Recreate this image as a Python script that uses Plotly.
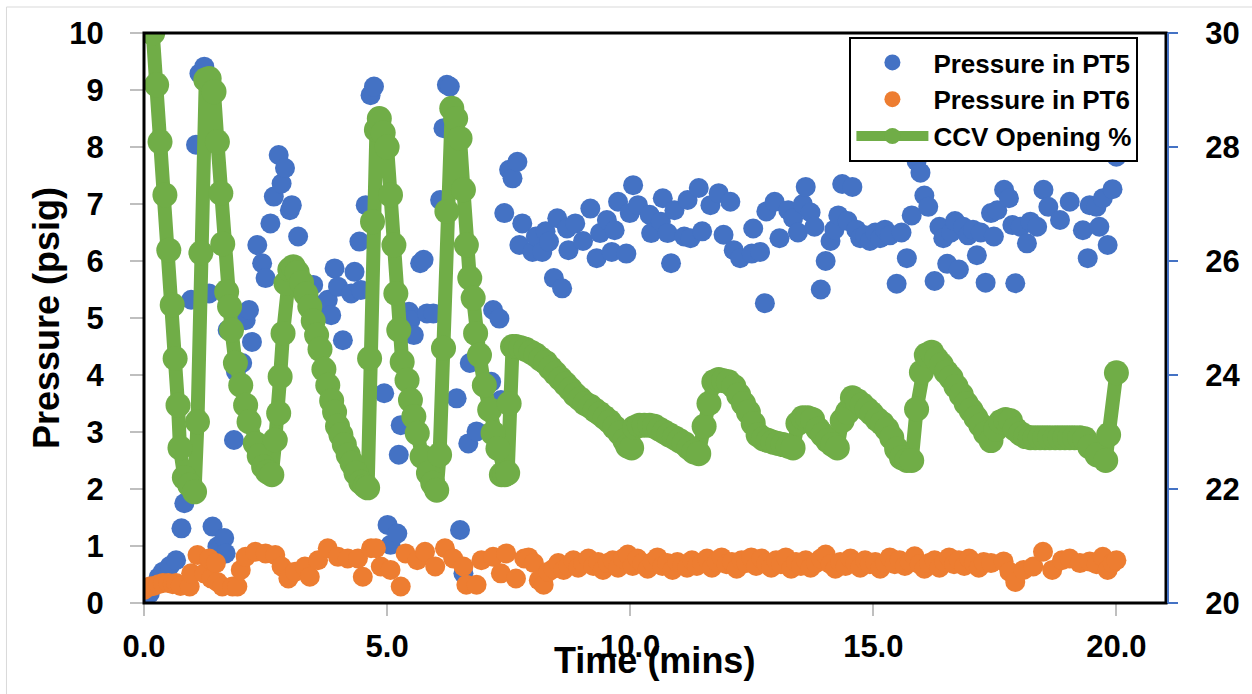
import plotly.graph_objects as go

# ---- data -------------------------------------------------------------
# CCV opening (%), right axis
ccv_t = [0.18, 0.26, 0.33, 0.43, 0.51, 0.58, 0.64, 0.70, 0.74, 0.83, 0.94, 1.04,
         1.10, 1.17, 1.27, 1.34, 1.44, 1.51, 1.58, 1.62, 1.70, 1.76, 1.80, 1.88,
         1.99, 2.09, 2.16, 2.29, 2.37, 2.46, 2.54, 2.63, 2.70, 2.77, 2.80, 2.86,
         2.92, 3.00, 3.07, 3.15, 3.24, 3.33, 3.41, 3.48, 3.55, 3.62, 3.70, 3.78,
         3.86, 3.92, 3.98, 4.05, 4.12, 4.20, 4.28, 4.36, 4.46, 4.55, 4.60, 4.64,
         4.70, 4.78, 4.84, 4.92, 5.00, 5.07, 5.14, 5.18, 5.24, 5.31, 5.41, 5.48,
         5.55, 5.62, 5.72, 5.85, 5.94, 6.02, 6.08, 6.16, 6.23, 6.33, 6.41, 6.50,
         6.57, 6.63, 6.70, 6.77, 6.82, 6.90, 7.00, 7.11, 7.18, 7.28, 7.35, 7.42,
         7.48, 7.51, 7.58, 7.65, 7.75, 7.85, 7.96, 8.06, 8.16, 8.26, 8.36, 8.46,
         8.57, 8.67, 8.77, 8.87, 8.97, 9.07, 9.18, 9.28, 9.38, 9.48, 9.58, 9.68,
         9.79, 9.89, 9.95, 10.03, 10.09, 10.19, 10.29, 10.40, 10.50, 10.60, 10.70,
         10.80, 10.91, 11.01, 11.11, 11.21, 11.31, 11.41, 11.52, 11.62, 11.72,
         11.82, 11.92, 12.02, 12.13, 12.23, 12.33, 12.43, 12.53, 12.63, 12.74,
         12.84, 12.94, 13.04, 13.14, 13.25, 13.35, 13.45, 13.55, 13.65, 13.75,
         13.86, 13.96, 14.06, 14.16, 14.26, 14.36, 14.47, 14.57, 14.67, 14.77,
         14.87, 14.97, 15.08, 15.18, 15.28, 15.38, 15.48, 15.58, 15.69, 15.79,
         15.89, 15.99, 16.09, 16.20, 16.30, 16.40, 16.50, 16.60, 16.70, 16.81,
         16.91, 17.01, 17.11, 17.21, 17.31, 17.42, 17.52, 17.62, 17.72, 17.82,
         17.92, 18.03, 18.13, 18.23, 18.33, 18.43, 18.53, 18.63, 18.74, 18.84,
         18.94, 19.04, 19.14, 19.25, 19.35, 19.45, 19.60, 19.78, 19.84, 20.00]
ccv_pct = [30.00, 29.09, 28.09, 27.16, 26.19, 25.23, 24.29, 23.47, 22.72, 22.20, 22.07, 21.95,
           23.18, 26.14, 29.18, 29.20, 28.97, 28.09, 27.19, 26.30, 25.46, 25.20, 24.79, 24.21,
           23.82, 23.47, 23.18, 22.80, 22.58, 22.39, 22.30, 22.25, 22.86, 23.33, 23.97, 24.73,
           25.61, 25.85, 25.90, 25.80, 25.62, 25.42, 25.20, 24.95, 24.70, 24.45, 24.10, 23.82,
           23.55, 23.35, 23.10, 22.95, 22.78, 22.60, 22.45, 22.28, 22.12, 22.05, 22.02, 24.29,
           26.69, 28.30, 28.50, 28.25, 28.00, 27.16, 26.28, 25.43, 24.79, 24.23, 23.91, 23.56,
           23.27, 22.98, 22.57, 22.28, 22.10, 21.98, 22.60, 24.47, 26.87, 28.68, 28.50, 28.15,
           27.25, 26.28, 25.70, 25.35, 24.73, 24.35, 23.82, 23.39, 22.98, 22.71, 22.25, 22.25,
           22.28, 23.50, 24.50, 24.50, 24.48, 24.45, 24.40, 24.35, 24.28, 24.22, 24.12, 24.03,
           23.93, 23.84, 23.75, 23.65, 23.58, 23.50, 23.45, 23.38, 23.32, 23.25, 23.18, 23.08,
           22.98, 22.85, 22.75, 22.72, 23.08, 23.12, 23.12, 23.12, 23.10, 23.05, 23.00,
           22.95, 22.90, 22.85, 22.80, 22.72, 22.65, 22.62, 23.10, 23.50, 23.88,
           23.92, 23.90, 23.88, 23.80, 23.65, 23.50, 23.35, 23.15, 22.95, 22.88,
           22.85, 22.82, 22.80, 22.78, 22.75, 22.72, 23.15, 23.25, 23.25, 23.22,
           23.05, 22.95, 22.85, 22.78, 22.72, 23.20, 23.35, 23.60, 23.55, 23.48,
           23.40, 23.32, 23.22, 23.15, 23.05, 22.90, 22.70, 22.55, 22.50, 22.50,
           23.40, 24.05, 24.35, 24.40, 24.28, 24.18, 24.05, 23.95, 23.80, 23.65,
           23.50, 23.38, 23.25, 23.12, 22.98, 22.85, 23.05, 23.18, 23.22, 23.20,
           23.05, 22.97, 22.92, 22.90, 22.90, 22.90, 22.90, 22.90, 22.90, 22.90,
           22.90, 22.90, 22.90, 22.90, 22.88, 22.74, 22.60, 22.50, 22.95, 24.04]

# Pressure in PT5 (psig)
pt5_t = [0.12, 0.30, 0.39, 0.53, 0.66, 0.77, 0.83, 0.97, 1.07, 1.14, 1.24, 1.34,
         1.41, 1.51, 1.65, 1.68, 1.72, 1.85, 1.89, 2.02, 2.09, 2.16, 2.22, 2.33,
         2.43, 2.50, 2.60, 2.67, 2.77, 2.83, 2.90, 3.00, 3.04, 3.17, 3.48, 3.72,
         3.78, 3.85, 3.92, 3.99, 4.09, 4.26, 4.33, 4.43, 4.46, 4.56, 4.66, 4.73,
         4.84, 4.94, 5.01, 5.07, 5.21, 5.24, 5.28, 5.45, 5.48, 5.55, 5.68, 5.75,
         5.82, 5.95, 6.09, 6.16, 6.23, 6.29, 6.43, 6.50, 6.57, 6.67, 6.70, 6.84,
         7.14, 7.18, 7.31, 7.34, 7.41, 7.51, 7.58, 7.68, 7.72, 7.78, 7.99, 8.06,
         8.19, 8.26, 8.33, 8.43, 8.50, 8.60, 8.70, 8.73, 8.87, 9.03, 9.18, 9.31,
         9.38, 9.52, 9.62, 9.68, 9.75, 9.92, 9.99, 10.06, 10.16, 10.40, 10.43,
         10.63, 10.67, 10.77, 10.84, 10.91, 11.11, 11.18, 11.24, 11.41, 11.48,
         11.65, 11.82, 11.92, 12.06, 12.13, 12.26, 12.50, 12.53, 12.67, 12.77,
         12.80, 12.97, 13.07, 13.25, 13.35, 13.45, 13.55, 13.61, 13.71, 13.79,
         13.92, 14.02, 14.12, 14.20, 14.28, 14.36, 14.47, 14.57, 14.65, 14.73,
         14.83, 14.93, 15.04, 15.14, 15.24, 15.34, 15.48, 15.58, 15.69, 15.79,
         15.89, 15.97, 16.05, 16.13, 16.26, 16.36, 16.44, 16.52, 16.60, 16.68,
         16.76, 16.85, 16.95, 17.05, 17.13, 17.21, 17.31, 17.42, 17.48, 17.55,
         17.69, 17.79, 17.86, 17.92, 18.03, 18.16, 18.23, 18.37, 18.50, 18.60,
         18.84, 19.04, 19.31, 19.41, 19.45, 19.59, 19.65, 19.72, 19.82, 19.92,
         20.00]
pt5_psig = [0.17, 0.45, 0.55, 0.65, 0.75, 1.31, 1.75, 5.32, 8.04, 9.29, 9.41, 5.43,
            1.34, 0.99, 1.14, 0.87, 4.79, 2.86, 4.06, 4.21, 4.96, 5.14, 4.58, 6.28,
            5.96, 5.70, 6.66, 7.13, 7.86, 7.36, 7.63, 6.89, 6.98, 6.43, 5.58, 5.26,
            5.32, 5.05, 5.87, 5.55, 4.61, 5.43, 5.81, 6.34, 5.49, 6.98, 8.91, 9.06,
            8.24, 3.68, 1.37, 1.02, 1.22, 2.60, 3.12, 5.11, 4.96, 4.70, 5.96, 6.02,
            5.08, 5.08, 7.07, 8.33, 9.09, 9.06, 3.59, 1.28, 0.52, 2.80, 4.21, 3.01,
            3.88, 5.14, 4.99, 3.56, 6.84, 7.60, 7.45, 7.74, 6.28, 6.66, 6.16, 6.43,
            6.16, 6.52, 6.34, 5.70, 6.75, 5.52, 6.57, 6.19, 6.66, 6.35, 6.92, 6.05,
            6.49, 6.72, 6.16, 6.54, 7.04, 6.13, 6.84, 7.33, 6.98, 6.81, 6.49,
            6.69, 7.10, 6.49, 5.96, 6.89, 6.43, 7.07, 6.40, 7.28, 6.52,
            6.98, 7.19, 6.46, 7.04, 6.19, 6.05, 6.13, 6.57, 6.16, 5.26,
            6.87, 7.04, 6.40, 6.89, 6.75, 6.50, 7.00, 7.30, 6.85, 6.60,
            5.50, 6.00, 6.35, 6.55, 6.80, 7.35, 6.70, 7.30, 6.55, 6.40,
            6.45, 6.35, 6.50, 6.40, 6.55, 6.45, 5.60, 6.50, 6.05, 6.80,
            7.75, 7.55, 7.15, 6.95, 5.65, 6.60, 6.40, 5.95, 6.50, 6.70,
            5.85, 6.60, 6.45, 6.55, 6.10, 6.50, 5.62, 6.84, 6.43, 6.89,
            7.25, 7.10, 6.63, 5.61, 6.60, 6.31, 6.69, 6.60, 7.25, 6.95,
            6.72, 7.04, 6.54, 6.05, 6.98, 6.95, 6.60, 7.10, 6.28, 7.26,
            7.83]

# Pressure in PT6 (psig)
pt6_t = [0.00, 0.12, 0.20, 0.30, 0.39, 0.50, 0.59, 0.66, 0.75, 0.94, 0.97, 1.10,
         1.24, 1.34, 1.38, 1.48, 1.51, 1.61, 1.82, 1.92, 1.99, 2.09, 2.29, 2.50,
         2.70, 2.83, 2.97, 3.11, 3.31, 3.41, 3.58, 3.78, 3.99, 4.19, 4.40, 4.50,
         4.67, 4.77, 4.87, 5.07, 5.28, 5.38, 5.62, 5.78, 5.99, 6.19, 6.36, 6.57,
         6.63, 6.84, 6.94, 7.18, 7.34, 7.45, 7.65, 7.82, 7.91, 8.02, 8.12, 8.22,
         8.32, 8.42, 8.52, 8.63, 8.73, 8.83, 8.93, 9.03, 9.14, 9.24, 9.34, 9.44,
         9.54, 9.64, 9.75, 9.85, 9.95, 10.05, 10.15, 10.25, 10.36, 10.46, 10.56,
         10.66, 10.76, 10.87, 10.97, 11.07, 11.17, 11.27, 11.37, 11.48, 11.58,
         11.68, 11.78, 11.88, 11.98, 12.09, 12.19, 12.29, 12.39, 12.49, 12.59,
         12.70, 12.80, 12.90, 13.00, 13.10, 13.20, 13.31, 13.41, 13.51, 13.61,
         13.71, 13.82, 13.92, 14.02, 14.12, 14.22, 14.32, 14.43, 14.53, 14.63,
         14.73, 14.83, 14.93, 15.04, 15.14, 15.24, 15.34, 15.44, 15.54, 15.65,
         15.75, 15.85, 15.95, 16.05, 16.15, 16.26, 16.36, 16.46, 16.56, 16.66,
         16.76, 16.87, 16.97, 17.07, 17.17, 17.27, 17.42, 17.68, 17.80, 17.92,
         18.09, 18.29, 18.49, 18.68, 18.88, 19.04, 19.25, 19.45, 19.59, 19.72,
         19.82, 19.92, 20.00]
pt6_psig = [0.23, 0.29, 0.30, 0.33, 0.35, 0.35, 0.33, 0.35, 0.30, 0.29, 0.52, 0.84,
            0.52, 0.78, 0.43, 0.70, 0.37, 0.29, 0.29, 0.29, 0.58, 0.81, 0.90, 0.87,
            0.84, 0.64, 0.43, 0.55, 0.64, 0.46, 0.75, 0.96, 0.81, 0.78, 0.78, 0.46,
            0.96, 0.96, 0.64, 0.58, 0.29, 0.87, 0.75, 0.90, 0.64, 0.96, 0.78, 0.64,
            0.32, 0.32, 0.75, 0.81, 0.52, 0.87, 0.43, 0.78, 0.80, 0.70, 0.40, 0.32,
            0.55, 0.60, 0.70, 0.58, 0.65, 0.75, 0.62, 0.70, 0.78, 0.65, 0.72, 0.58,
            0.70, 0.75, 0.62, 0.78, 0.85, 0.65, 0.78, 0.70, 0.60, 0.72, 0.80,
            0.65, 0.70, 0.58, 0.72, 0.68, 0.62, 0.75, 0.65, 0.70, 0.78,
            0.62, 0.72, 0.80, 0.68, 0.72, 0.60, 0.75, 0.70, 0.80, 0.65,
            0.78, 0.70, 0.62, 0.75, 0.68, 0.80, 0.60, 0.72, 0.65, 0.75,
            0.62, 0.70, 0.78, 0.85, 0.68, 0.60, 0.72, 0.65, 0.78, 0.70,
            0.62, 0.75, 0.68, 0.72, 0.60, 0.70, 0.80, 0.68, 0.75, 0.65,
            0.72, 0.82, 0.68, 0.60, 0.70, 0.75, 0.62, 0.72, 0.80, 0.68,
            0.75, 0.65, 0.78, 0.70, 0.62, 0.72, 0.70, 0.73, 0.55, 0.37,
            0.58, 0.64, 0.90, 0.58, 0.75, 0.78, 0.70, 0.73, 0.68, 0.81,
            0.58, 0.70, 0.75]

x_ticks = [0, 5, 10, 15, 20]
y_left_ticks = list(range(0, 11))
y_right_ticks = [20, 22, 24, 26, 28, 30]

# ---- style ------------------------------------------------------------
BLUE = "#4472C4"
ORANGE = "#ED7D31"
GREEN = "#70AD47"
TICK_GRAY = "#BFBFBF"
FONT = "Liberation Sans, Arial, sans-serif"

W, H = 1252, 694
ML, MR, MT, MB = 144, 75, 33, 91
PW, PH = W - ML - MR, H - MT - MB


def px_x(px):
    return (px - ML) / PW


def px_y(py):
    return (H - MB - py) / PH


tick_font = dict(family=FONT, size=31, color="black", weight="bold")

fig = go.Figure()
fig.add_trace(go.Scatter(x=pt5_t, y=pt5_psig, mode="markers", name="Pressure in PT5",
                         marker=dict(color=BLUE, size=20)))
fig.add_trace(go.Scatter(x=pt6_t, y=pt6_psig, mode="markers", name="Pressure in PT6",
                         marker=dict(color=ORANGE, size=20)))
fig.add_trace(go.Scatter(x=ccv_t, y=ccv_pct, mode="lines+markers", name="CCV Opening %",
                         yaxis="y2", line=dict(color=GREEN, width=14),
                         marker=dict(color=GREEN, size=25)))

x_range = [0, 21.02]
fig.update_layout(
    width=W, height=H,
    margin=dict(l=ML, r=MR, t=MT, b=MB),
    paper_bgcolor="white", plot_bgcolor="white",
    showlegend=True,
    legend=dict(x=px_x(857), y=px_y(37), xanchor="left", yanchor="top",
                bgcolor="white", bordercolor="black", borderwidth=2,
                font=dict(family=FONT, size=26, color="black", weight="bold"),
                itemwidth=72, tracegroupgap=0),
    xaxis=dict(range=x_range, tickvals=x_ticks, tickformat=".1f",
               ticks="outside", ticklen=12, tickwidth=2, tickcolor=TICK_GRAY,
               showgrid=False, zeroline=False, showline=False,
               tickfont=tick_font, ticklabelstandoff=4),
    xaxis2=dict(range=x_range, tickvals=x_ticks, overlaying="x", anchor="y",
                side="bottom", ticks="inside", ticklen=12, tickwidth=2,
                tickcolor=TICK_GRAY, showticklabels=False, showgrid=False,
                zeroline=False, showline=False),
    yaxis=dict(range=[0, 10], tickvals=y_left_ticks, ticks="outside", ticklen=13,
               tickwidth=2, tickcolor=TICK_GRAY, showgrid=False, zeroline=False,
               showline=False, tickfont=tick_font, ticklabelstandoff=20),
    yaxis2=dict(range=[20, 30], tickvals=y_right_ticks, overlaying="y", side="right",
                anchor="x", ticks="outside", ticklen=11, tickwidth=2, tickcolor=BLUE,
                showgrid=False, zeroline=False, showline=False,
                tickfont=tick_font, ticklabelstandoff=21),
    yaxis3=dict(range=[20, 30], tickvals=y_right_ticks, overlaying="y", side="right",
                anchor="x", ticks="inside", ticklen=11, tickwidth=2, tickcolor=BLUE,
                showticklabels=False, showgrid=False, zeroline=False, showline=False),
)

shapes = [
    # chart area border
    dict(type="rect", xref="paper", yref="paper", x0=px_x(5), x1=px_x(1270),
         y0=px_y(710), y1=px_y(7), line=dict(color="#D9D9D9", width=1),
         fillcolor="rgba(0,0,0,0)", layer="below"),
    # plot frame
    dict(type="rect", xref="paper", yref="paper", x0=0, x1=1, y0=0, y1=1,
         line=dict(color="black", width=3), fillcolor="rgba(0,0,0,0)", layer="above"),
    # secondary axis line
    dict(type="line", xref="paper", yref="paper", x0=px_x(1179), x1=px_x(1179),
         y0=0, y1=1, line=dict(color=BLUE, width=2), layer="above"),
]
fig.update_layout(shapes=shapes)

title_font = dict(family=FONT, size=36, color="black", weight="bold")
fig.add_annotation(text="Pressure (psig)", xref="paper", yref="paper",
                   x=px_x(45), y=0.5, xanchor="center", yanchor="middle",
                   textangle=-90, showarrow=False, font=title_font)
fig.add_annotation(text="Time (mins)", xref="paper", yref="paper",
                   x=px_x(660), y=px_y(660), xanchor="center", yanchor="middle",
                   showarrow=False, font=title_font)

fig.write_html("out.html")
